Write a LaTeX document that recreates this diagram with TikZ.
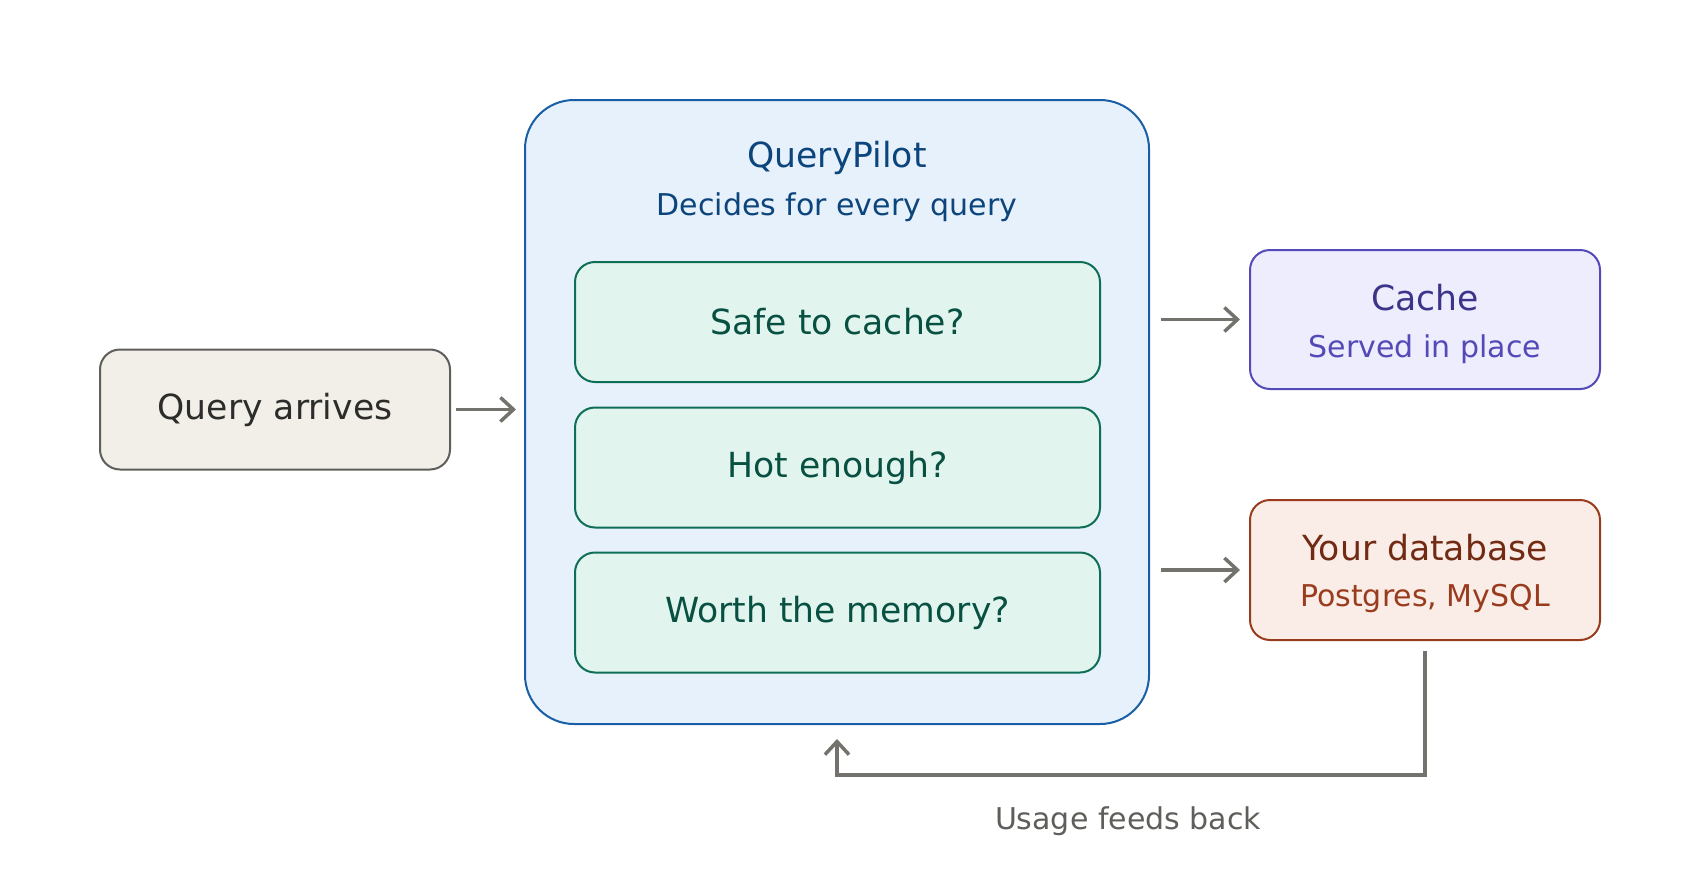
\documentclass[tikz,border=0pt]{standalone}
\usepackage{fontspec}
\setmainfont{DejaVu Sans}
\usetikzlibrary{arrows.meta}
\definecolor{qfill}{HTML}{F1EFE8}
\definecolor{qline}{HTML}{5F5E5A}
\definecolor{qtext}{HTML}{2C2C2A}
\definecolor{pfill}{HTML}{E6F1FB}
\definecolor{pline}{HTML}{185FA5}
\definecolor{ptext}{HTML}{0C447C}
\definecolor{gfill}{HTML}{E1F5EE}
\definecolor{gline}{HTML}{0F6E56}
\definecolor{gtext}{HTML}{085041}
\definecolor{cfill}{HTML}{EEEDFE}
\definecolor{cline}{HTML}{534AB7}
\definecolor{ctext}{HTML}{3C3489}
\definecolor{dfill}{HTML}{FAECE7}
\definecolor{dline}{HTML}{993C1D}
\definecolor{dtext}{HTML}{712B13}
\definecolor{arrgray}{HTML}{73726C}
\definecolor{lbltext}{HTML}{5F5E5A}
\newcommand{\bigtxt}{\fontsize{34.6}{40}\selectfont}
\newcommand{\smalltxt}{\fontsize{30}{36}\selectfont}
\tikzset{
  box/.style={draw, line width=2pt, rounded corners=20pt, inner sep=0pt, align=center},
  arr/.style={draw=arrgray, line width=3.5pt, -{Straight Barb[length=13pt,width=24pt,line width=3.5pt]}},
}
\begin{document}
\begin{tikzpicture}[x=1pt,y=-1pt]
\useasboundingbox (0,0) rectangle (1700,875);
\fill[white] (0,0) rectangle (1700,875);

\node[box, fill=qfill, draw=qline, text=qtext, minimum width=350pt, minimum height=120pt, font=\bigtxt] (q) at (275,409.5) {Query arrives};

\node[box, fill=pfill, draw=pline, rounded corners=49pt, minimum width=624pt, minimum height=624pt] (pilot) at (837,412) {};
\node[text=ptext, font=\bigtxt] (ptitle) at (837,158) {QueryPilot};
\node[text=ptext, font=\smalltxt] (psub) at (837,207) {Decides for every query};

\node[box, fill=gfill, draw=gline, text=gtext, minimum width=525pt, minimum height=120pt, font=\bigtxt] (g1) at (837.5,322) {Safe to cache?};
\node[box, fill=gfill, draw=gline, text=gtext, minimum width=525pt, minimum height=120pt, font=\bigtxt] (g2) at (837.5,467.5) {Hot enough?};
\node[box, fill=gfill, draw=gline, text=gtext, minimum width=525pt, minimum height=120pt, font=\bigtxt] (g3) at (837.5,612.5) {Worth the memory?};

\node[box, fill=cfill, draw=cline, minimum width=350pt, minimum height=139pt] (cache) at (1425,319.5) {};
\node[text=ctext, font=\bigtxt] (ctitle) at (1425,298) {Cache};
\node[text=cline, font=\smalltxt] (csub) at (1425,349) {Served in place};

\node[box, fill=dfill, draw=dline, minimum width=350pt, minimum height=140pt] (db) at (1425,570) {};
\node[text=dtext, font=\bigtxt] (dtitle) at (1425,548) {Your database};
\node[text=dline, font=\smalltxt] (dsub) at (1425,598) {Postgres, MySQL};

\draw[arr, shorten <=5pt, shorten >=8pt] (q.east) -- (q.east -| pilot.west);
\draw[arr, shorten <=11pt, shorten >=9pt] (pilot.east |- cache.west) -- (cache.west);
\draw[arr, shorten <=11pt, shorten >=9pt] (pilot.east |- db.west) -- (db.west);

\coordinate (fb) at (1425,775);
\draw[arr, shorten <=10pt, shorten >=14pt] (db.south) -- (fb) -| (pilot.south);
\node[text=lbltext, font=\smalltxt] (fblabel) at (1128,821) {Usage feeds back};
\end{tikzpicture}
\end{document}
